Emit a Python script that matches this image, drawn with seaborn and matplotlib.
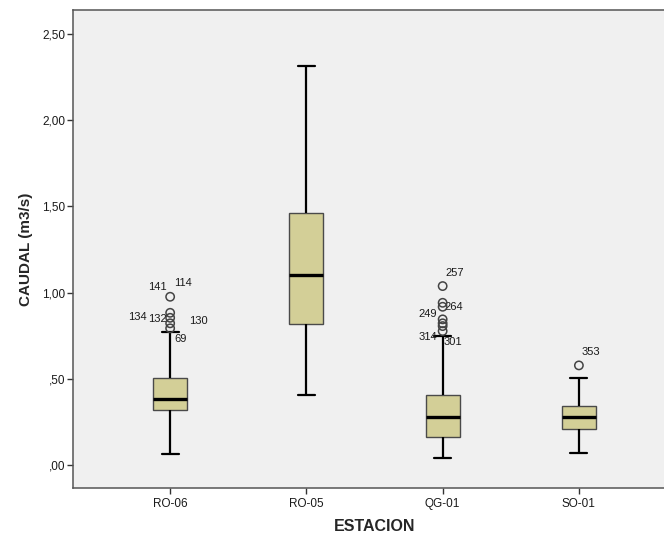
import numpy as np
import pandas as pd
import matplotlib
matplotlib.use("Agg")
import matplotlib.pyplot as plt
import seaborn as sns

# ---- data ----
stations = ["RO-06", "RO-05", "QG-01", "SO-01"]
whisker_low = [0.062, 0.406, 0.041, 0.068]
q1 = [0.317, 0.818, 0.162, 0.209]
median = [0.385, 1.100, 0.280, 0.277]
q3 = [0.505, 1.463, 0.404, 0.344]
whisker_high = [0.773, 2.316, 0.750, 0.506]

outlier_station = ["RO-06", "RO-06", "RO-06", "RO-06", "RO-06",
                   "QG-01", "QG-01", "QG-01", "QG-01", "QG-01", "QG-01", "QG-01",
                   "SO-01"]
outlier_value = [0.976, 0.883, 0.854, 0.822, 0.793,
                 1.038, 0.941, 0.918, 0.845, 0.822, 0.806, 0.777,
                 0.578]

# case labels: (station, value of the point it belongs to, text, offset px)
label_station = ["RO-06", "RO-06", "RO-06", "RO-06", "RO-06", "RO-06",
                 "QG-01", "QG-01", "QG-01", "QG-01", "QG-01", "SO-01"]
label_value = [0.976, 0.976, 0.883, 0.854, 0.822, 0.793,
               1.038, 0.941, 0.918, 0.777, 0.806, 0.578]
label_text = ["141", "114", "134", "132", "130", "69",
              "257", "264", "249", "314", "301", "353"]
label_dx = [-13, 13, -33, -13, 28, 10, 12, 11, -15, -15, 10, 12]
label_dy = [10, 14, -4, -1, 2, -11, 13, -4, -7, -6, -16, 13]

yticks = [0.0, 0.5, 1.0, 1.5, 2.0, 2.5]
ytick_labels = [",00", ",50", "1,00", "1,50", "2,00", "2,50"]

# ---- style ----
sns.set_style("ticks")
plt.rcParams["font.family"] = ["Liberation Sans", "DejaVu Sans"]
plt.rcParams["axes.facecolor"] = "#f0f0f0"

W, H = 664, 538
fig = plt.figure(figsize=(W / 100, H / 100), dpi=100)
fig.patch.set_facecolor("white")
left, right, top, bottom = 73, 677, 10, 488
ax = fig.add_axes([left / W, 1 - bottom / H, (right - left) / W, (bottom - top) / H])
ax.set_facecolor("#f0f0f0")

# long-form table of the five-number summaries
rows = []
for i, s in enumerate(stations):
    for v in (whisker_low[i], q1[i], median[i], q3[i], whisker_high[i]):
        rows.append({"ESTACION": s, "CAUDAL": v})
df = pd.DataFrame(rows)

sns.boxplot(data=df, x="ESTACION", y="CAUDAL", order=stations, ax=ax,
            whis=(0, 100), width=0.25, color="#d3cf97", saturation=1,
            linecolor="black", linewidth=1.5, showfliers=False,
            boxprops={"edgecolor": "#4a4a4a", "linewidth": 1.0},
            medianprops={"color": "black", "linewidth": 2.4},
            whiskerprops={"color": "black", "linewidth": 1.6},
            capprops={"color": "black", "linewidth": 1.6})

odf = pd.DataFrame({"ESTACION": outlier_station, "CAUDAL": outlier_value})
n_before = len(ax.collections)
sns.stripplot(data=odf, x="ESTACION", y="CAUDAL", order=stations, ax=ax,
              jitter=False, size=6, marker="o", facecolor="none",
              edgecolor="#444444", linewidth=1.1, zorder=4)
for coll in ax.collections[n_before:]:
    coll.set_facecolor("none")
    coll.set_edgecolor("#444444")

for s, v, t, dx, dy in zip(label_station, label_value, label_text, label_dx, label_dy):
    ax.annotate(t, xy=(stations.index(s), v), xytext=(dx, dy),
                textcoords="offset pixels", ha="center", va="center",
                fontsize=8, color="#1a1a1a")

ax.set_xlim(-0.713, 3.72)
ax.set_ylim(-0.133, 2.639)
ax.set_yticks(yticks)
ax.set_yticklabels(ytick_labels)
ax.tick_params(axis="both", direction="out", length=4.5, width=1, color="#333333",
               labelsize=8.5, labelcolor="#1a1a1a")
ax.tick_params(axis="y", pad=1)
ax.tick_params(axis="x", pad=3)

for side in ["left", "bottom", "top", "right"]:
    ax.spines[side].set_visible(True)
    ax.spines[side].set_color("#555555")
    ax.spines[side].set_linewidth(1.1)

ax.set_xlabel("ESTACION", fontsize=11.5, fontweight="bold", labelpad=6)
ax.set_ylabel("CAUDAL (m3/s)", fontsize=11, fontweight="bold", labelpad=7)

fig.savefig("out.png", dpi=100, facecolor="white")
